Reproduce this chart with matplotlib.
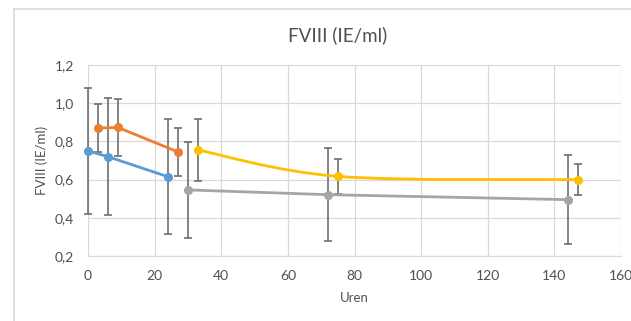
#!/usr/bin/env python3

import matplotlib
matplotlib.use("Agg")
import matplotlib.pyplot as plt
from matplotlib.lines import Line2D
from matplotlib.path import Path
from matplotlib.patches import PathPatch
from matplotlib.ticker import FuncFormatter

# series: hours, FVIII (IE/ml), error (+/-)
blue_x = [0, 6, 24]
blue_y = [0.75, 0.72, 0.615]
blue_err = [0.33, 0.305, 0.30]

orange_x = [3, 9, 27]
orange_y = [0.87, 0.873, 0.745]
orange_err = [0.125, 0.147, 0.125]

gray_x = [30, 72, 144]
gray_y = [0.546, 0.521, 0.495]
gray_err = [0.25, 0.245, 0.232]

yellow_x = [33, 75, 147]
yellow_y = [0.755, 0.617, 0.600]
yellow_err = [0.16, 0.09, 0.083]

x_ticks = [0, 20, 40, 60, 80, 100, 120, 140, 160]
y_ticks = [0.2, 0.4, 0.6, 0.8, 1.0, 1.2]

TXT = "#505050"
GRID = "#D9D9D9"
ERR = "#6E6E6E"
plt.rcParams["font.family"] = ["Lato", "DejaVu Sans"]


def smooth_path(xs, ys):
    # Excel-style smoothed line: cubic bezier through the points
    pts = list(zip(xs, ys))
    ext = [pts[0]] + pts + [pts[-1]]
    verts = [pts[0]]
    codes = [Path.MOVETO]
    for i in range(1, len(ext) - 2):
        p0, p1, p2, p3 = ext[i - 1], ext[i], ext[i + 1], ext[i + 2]
        c1 = (p1[0] + (p2[0] - p0[0]) / 6, p1[1] + (p2[1] - p0[1]) / 6)
        c2 = (p2[0] - (p3[0] - p1[0]) / 6, p2[1] - (p3[1] - p1[1]) / 6)
        verts += [c1, c2, p2]
        codes += [Path.CURVE4] * 3
    return Path(verts, codes)


fig = plt.figure(figsize=(6.31, 3.21), dpi=100)
ax = fig.add_axes([88 / 631, 1 - 256 / 321, (621 - 88) / 631, (256 - 65) / 321])

series = [
    (blue_x, blue_y, blue_err, "#5B9BD5", False),
    (orange_x, orange_y, orange_err, "#ED7D31", False),
    (gray_x, gray_y, gray_err, "#A5A5A5", False),
    (yellow_x, yellow_y, yellow_err, "#FFC000", True),
]

for xs, ys, errs, color, smooth in series:
    ax.errorbar(xs, ys, yerr=errs, fmt="none", ecolor=ERR, elinewidth=1.2,
                capsize=3, capthick=1.2, zorder=3, clip_on=False)
    if smooth:
        ax.add_patch(PathPatch(smooth_path(xs, ys), facecolor="none",
                               edgecolor=color, lw=2.0, zorder=4, clip_on=False))
    else:
        ax.plot(xs, ys, color=color, lw=2.0, zorder=4, clip_on=False)
    ax.plot(xs, ys, "o", color=color, markersize=5.5, zorder=5, clip_on=False)

ax.set_xlim(0, 160)
ax.set_ylim(0.2, 1.2)
ax.set_xticks(x_ticks)
ax.set_yticks(y_ticks)
ax.yaxis.set_major_formatter(FuncFormatter(lambda v, p: f"{v:.1f}".replace(".", ",")))
ax.grid(True, color=GRID, lw=0.9)
ax.set_axisbelow(True)
for s in ["top", "right", "left"]:
    ax.spines[s].set_visible(False)
ax.spines["bottom"].set_color(GRID)
ax.tick_params(length=0, labelsize=10, labelcolor=TXT)
ax.tick_params(axis="y", pad=10)
ax.tick_params(axis="x", pad=10)

ax.set_xlabel("Uren", fontsize=9.5, color=TXT, labelpad=7)
ax.set_ylabel("FVIII (IE/ml)", fontsize=9.5, color=TXT, labelpad=5)
fig.text(338 / 631, 1 - 35 / 321, "FVIII (IE/ml)", ha="center", va="center",
         fontsize=13.5, color=TXT)

# chart area frame (only left and top edges fall inside the picture)
fig.add_artist(Line2D([14 / 631, 14 / 631], [0, 1 - 9 / 321], transform=fig.transFigure,
                      color=GRID, lw=1.2))
fig.add_artist(Line2D([14 / 631, 1], [1 - 9 / 321, 1 - 9 / 321], transform=fig.transFigure,
                      color=GRID, lw=1.2))

fig.savefig("out.png", dpi=100)
